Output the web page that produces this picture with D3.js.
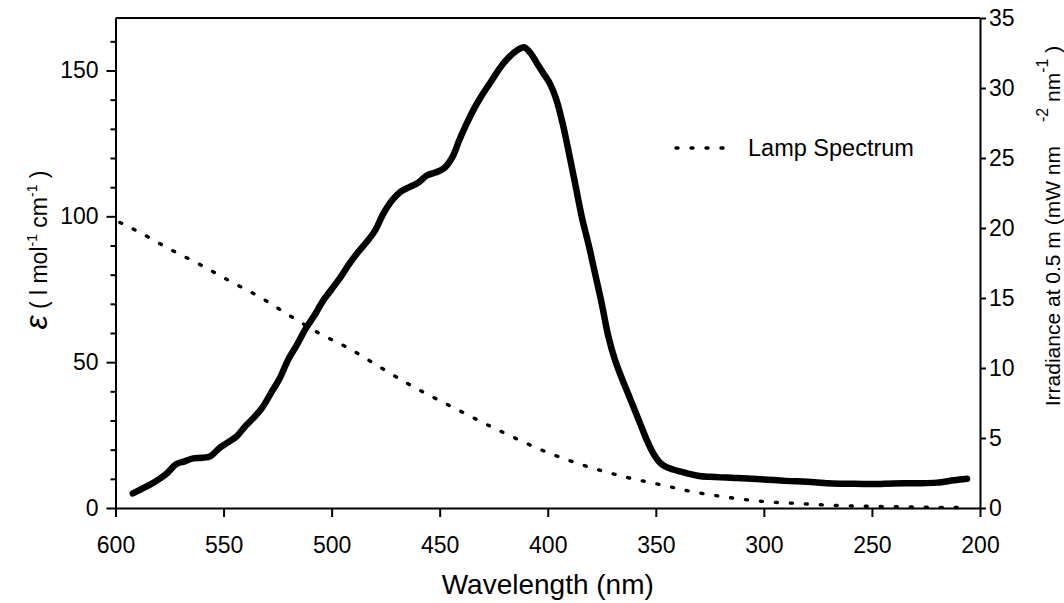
<!DOCTYPE html>
<html>
<head>
<meta charset="utf-8">
<script src="https://cdn.jsdelivr.net/npm/d3@7"></script>
<style>
	body { margin: 0; background: #fff; }
	svg { display: block; font-family: "Liberation Sans", Arial, sans-serif; }
	.axis path, .axis line { stroke: #000; stroke-width: 2; }
	.axis text { fill: #000; font-size: 23px; }
</style>
</head>
<body>
<div id="chart"></div>
<script>
// absorbance spectrum (nm, epsilon)
var specNm = [592, 588, 584, 580, 576, 572, 568, 564, 560, 556, 552, 548, 544, 540, 536, 532, 528, 524, 520, 516, 512, 508, 504, 500, 496, 492, 488, 484, 480, 476, 472, 468, 464, 460, 456, 452, 448, 444, 441, 438, 434, 430, 426, 422, 418, 414, 411, 408, 405, 402, 399, 396, 393, 390, 387, 384, 381, 378, 375, 372, 369, 366, 363, 360, 357, 354, 351, 348, 345, 342, 338, 334, 330, 325, 320, 315, 310, 300, 290, 280, 270, 260, 250, 240, 230, 220, 212, 206];
var specEps = [5, 6.5, 8, 9.8, 12, 15, 16, 17, 17.2, 17.8, 20.5, 22.5, 24.5, 28, 31, 34.5, 39.5, 44.5, 51, 56, 61.5, 66, 71, 75, 79, 83.5, 87.5, 91, 95, 101, 105.5, 108.5, 110, 111.5, 114, 115, 116.5, 120.5, 126, 131, 137, 142, 146.5, 151, 154.5, 157, 158, 156, 152.5, 149, 145.5, 140, 131.5, 121, 110, 99, 90, 80, 70, 59, 51, 45, 39.5, 34, 28.5, 23, 18.5, 15.5, 14, 13.2, 12.4, 11.6, 11, 10.7, 10.5, 10.4, 10.2, 9.8, 9.3, 9, 8.5, 8.3, 8.2, 8.4, 8.5, 8.7, 9.5, 10];

// lamp spectrum (nm, mW m-2 nm-1)
var lampNm = [598, 589, 575, 561, 547, 533, 519, 506, 492, 478, 465, 444, 422, 399, 376, 361, 347, 333, 319, 307, 299, 285, 271, 260, 245, 230, 215, 208];
var lampIrr = [20.4, 19.7, 18.5, 17.4, 16.2, 15.05, 13.7, 12.5, 11.4, 10.1, 8.9, 7.2, 5.5, 3.9, 2.7, 2.1, 1.64, 1.16, 0.81, 0.57, 0.45, 0.33, 0.21, 0.15, 0.1, 0.07, 0.04, 0.03];

var xTicks = [600, 550, 500, 450, 400, 350, 300, 250, 200];
var leftTicks = [0, 50, 100, 150];
var leftMinor = [10, 20, 30, 40, 60, 70, 80, 90, 110, 120, 130, 140, 160];
var rightTicks = [0, 5, 10, 15, 20, 25, 30, 35];
var legendLabel = 'Lamp Spectrum';

(function() {
	var width = 1064,
		height = 603,
		pLeft = 115.5,
		pRight = 980,
		pTop = 18,
		pBottom = 508;

	var x = d3.scaleLinear().domain([600, 200]).range([pLeft, pRight]);
	var yL = d3.scaleLinear().domain([0, 168]).range([pBottom, pTop]);
	var yR = d3.scaleLinear().domain([0, 35]).range([pBottom, pTop]);

	var svg = d3.select('#chart')
		.append('svg')
		.attr('width', width)
		.attr('height', height);

	// frame top
	svg.append('line')
		.attr('x1', pLeft).attr('x2', pRight)
		.attr('y1', pTop).attr('y2', pTop)
		.attr('stroke', '#000').attr('stroke-width', 2);

	svg.append('g')
		.attr('class', 'axis')
		.attr('transform', 'translate(0 ' + pBottom + ')')
		.call(d3.axisBottom(x).tickValues(xTicks).tickSize(9).tickPadding(20).tickSizeOuter(0));

	svg.append('g')
		.attr('class', 'axis')
		.attr('transform', 'translate(' + pLeft + ' 0)')
		.call(d3.axisLeft(yL).tickValues(leftTicks).tickSize(9).tickPadding(8).tickSizeOuter(0));

	svg.append('g')
		.attr('class', 'axis')
		.attr('transform', 'translate(' + pLeft + ' 0)')
		.call(d3.axisLeft(yL).tickValues(leftMinor).tickSize(5).tickFormat('').tickSizeOuter(0))
		.select('.domain').remove();

	svg.append('g')
		.attr('class', 'axis')
		.attr('transform', 'translate(' + pRight + ' 0)')
		.call(d3.axisRight(yR).tickValues(rightTicks).tickSize(6).tickPadding(3).tickSizeOuter(0));

	svg.selectAll('.axis .domain').attr('fill', 'none');

	// lamp (dotted, right axis)
	var lampLine = d3.line()
		.x(function(d) { return x(d[0]); })
		.y(function(d) { return yR(d[1]); })
		.curve(d3.curveMonotoneX);

	svg.append('path')
		.datum(d3.zip(lampNm, lampIrr))
		.attr('d', lampLine)
		.attr('fill', 'none')
		.attr('stroke', '#000')
		.attr('stroke-width', 3.4)
		.attr('stroke-linecap', 'round')
		.attr('stroke-dasharray', '2,13');

	// absorbance (thick, left axis)
	var specLine = d3.line()
		.x(function(d) { return x(d[0]); })
		.y(function(d) { return yL(d[1]); })
		.curve(d3.curveCatmullRom);

	svg.append('path')
		.datum(d3.zip(specNm, specEps))
		.attr('d', specLine)
		.attr('fill', 'none')
		.attr('stroke', '#000')
		.attr('stroke-width', 6.5)
		.attr('stroke-linejoin', 'round')
		.attr('stroke-linecap', 'round');

	// legend
	svg.append('line')
		.attr('x1', 676).attr('x2', 726)
		.attr('y1', 148).attr('y2', 148)
		.attr('stroke', '#000')
		.attr('stroke-width', 3.4)
		.attr('stroke-linecap', 'round')
		.attr('stroke-dasharray', '2,13');

	svg.append('text')
		.attr('x', 748)
		.attr('y', 148)
		.attr('dy', '0.35em')
		.attr('font-size', 23.5)
		.text(legendLabel);

	// axis titles
	svg.append('text')
		.attr('x', (pLeft + pRight) / 2)
		.attr('y', 594)
		.attr('text-anchor', 'middle')
		.attr('font-size', 28)
		.text('Wavelength (nm)');

	var lt = svg.append('text')
		.attr('transform', 'translate(47 250) rotate(-90)')
		.attr('text-anchor', 'middle')
		.attr('font-size', 23);
	lt.append('tspan').attr('font-size', 32).attr('font-style', 'italic').text('\u03b5');
	lt.append('tspan').text(' ( l mol');
	lt.append('tspan').attr('font-size', 14).attr('dy', -10).text('-1');
	lt.append('tspan').attr('dy', 10).text(' cm');
	lt.append('tspan').attr('font-size', 14).attr('dy', -10).text('-1');
	lt.append('tspan').attr('dy', 10).text(' )');

	var rt = svg.append('text')
		.attr('transform', 'translate(1060 226) rotate(-90)')
		.attr('text-anchor', 'middle')
		.attr('font-size', 21);
	rt.append('tspan').text('Irradiance at 0.5 m (mW nm');
	rt.append('tspan').attr('font-size', 16).attr('dx', 24).attr('dy', -12).text('-2');
	rt.append('tspan').attr('dy', 12).text(' nm');
	rt.append('tspan').attr('font-size', 16).attr('dy', -12).text('-1');
	rt.append('tspan').attr('dy', 12).text(' )');
})();
</script>
</body>
</html>
